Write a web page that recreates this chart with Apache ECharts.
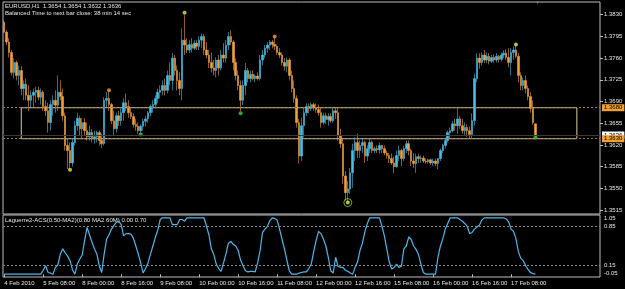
<!DOCTYPE html>
<html><head><meta charset="utf-8">
<script src="https://cdn.jsdelivr.net/npm/echarts@6/dist/echarts.min.js"></script>
<style>html,body{margin:0;padding:0;background:#000;overflow:hidden}#c{width:625px;height:289px}</style>
</head><body><div id="c"></div>
<script>
// ---------- data ----------
const symbolName = 'EURUSD,H1';
const lastQuote = [1.3654, 1.3654, 1.3632, 1.3636];
const timerText = 'Balanced Time to next bar close: 38 min 14 sec';
const indicatorName = 'Laguerre2-ACS(0.50-MA2)(0.80 MA2 60M) 0.00 0.70';
const priceTicks = [1.3515, 1.3550, 1.3585, 1.3620, 1.3655, 1.3690, 1.3725, 1.3760, 1.3795, 1.3830];
const oscTicks = [-0.05, 0.15, 0.85, 1.05];
const oscLevels = [0.15, 0.85];
const timeTicks = ['4 Feb 2010','5 Feb 08:00','8 Feb 00:00','8 Feb 16:00','9 Feb 08:00','10 Feb 00:00','10 Feb 16:00','11 Feb 08:00','12 Feb 00:00','12 Feb 16:00','15 Feb 08:00','16 Feb 00:00','16 Feb 16:00','17 Feb 08:00'];
const zoneTop = 1.3680, zoneBottom = 1.3630, zoneFromBar = 7, zoneToBar = 235;
const bidPrice = 1.3636;
const priceRange = [1.35086, 1.38505];
const oscRange = [-0.05, 1.05];
// hourly bars [open, high, low, close] in 1/10000
const bars = [
[13818,13821,13800,13802],[13802,13805,13781,13786],[13786,13792,13761,13769],[13769,13773,13732,13737],[13737,13760,13727,13753],[13753,13756,13724,13732],[13732,13748,13716,13740],[13740,13747,13700,13711],[13711,13724,13692,13718],[13718,13727,13692,13700],
[13700,13716,13675,13692],[13692,13708,13679,13700],[13700,13711,13680,13705],[13705,13714,13688,13708],[13708,13714,13692,13697],[13697,13711,13685,13705],[13705,13708,13675,13682],[13682,13692,13667,13675],[13675,13688,13640,13656],[13656,13692,13643,13685],
[13685,13700,13667,13692],[13692,13708,13672,13684],[13684,13732,13675,13705],[13705,13724,13692,13698],[13698,13711,13659,13667],[13667,13672,13611,13619],[13619,13630,13581,13611],[13611,13624,13583,13591],[13591,13630,13585,13624],[13624,13659,13619,13651],
[13651,13672,13643,13663],[13663,13667,13635,13646],[13646,13663,13630,13656],[13656,13663,13635,13643],[13643,13656,13627,13633],[13633,13651,13627,13640],[13640,13646,13624,13630],[13630,13643,13622,13633],[13633,13643,13624,13640],[13640,13643,13619,13627],
[13627,13638,13615,13622],[13622,13697,13619,13692],[13692,13705,13680,13695],[13695,13706,13675,13685],[13685,13688,13654,13659],[13659,13675,13635,13646],[13646,13672,13640,13667],[13667,13675,13651,13659],[13659,13679,13651,13672],[13672,13695,13659,13688],
[13688,13703,13675,13682],[13682,13692,13664,13672],[13672,13679,13662,13666],[13666,13671,13648,13653],[13653,13662,13643,13650],[13650,13656,13638,13643],[13643,13653,13638,13650],[13650,13662,13643,13658],[13658,13667,13650,13662],[13662,13675,13656,13672],
[13672,13685,13666,13682],[13682,13692,13672,13685],[13685,13700,13679,13695],[13695,13711,13688,13705],[13705,13716,13695,13708],[13708,13724,13700,13716],[13716,13727,13700,13708],[13708,13740,13703,13732],[13732,13753,13716,13724],[13724,13768,13708,13760],
[13760,13765,13732,13740],[13740,13748,13708,13724],[13724,13737,13700,13711],[13711,13808,13692,13789],[13789,13829,13765,13781],[13781,13792,13768,13773],[13773,13789,13768,13782],[13782,13792,13769,13776],[13776,13789,13773,13784],[13784,13789,13773,13779],
[13779,13795,13773,13789],[13789,13800,13776,13795],[13795,13799,13765,13773],[13773,13786,13760,13765],[13765,13773,13744,13753],[13753,13769,13737,13744],[13744,13757,13732,13740],[13740,13761,13729,13757],[13757,13765,13732,13744],[13744,13773,13740,13765],
[13765,13784,13753,13760],[13760,13789,13753,13781],[13781,13802,13773,13795],[13795,13805,13781,13786],[13786,13789,13740,13753],[13753,13760,13724,13732],[13732,13740,13708,13716],[13716,13724,13674,13692],[13692,13724,13684,13716],[13716,13752,13700,13740],
[13740,13744,13721,13727],[13727,13740,13721,13734],[13734,13740,13724,13727],[13727,13734,13721,13731],[13731,13737,13724,13727],[13727,13765,13724,13757],[13757,13773,13748,13765],[13765,13781,13760,13776],[13776,13786,13769,13781],[13781,13789,13773,13786],
[13786,13789,13776,13782],[13782,13794,13773,13779],[13779,13782,13765,13769],[13769,13776,13760,13765],[13765,13769,13748,13753],[13753,13760,13740,13747],[13747,13761,13737,13757],[13757,13760,13724,13732],[13732,13740,13705,13711],[13711,13724,13688,13695],
[13695,13700,13648,13656],[13656,13662,13590,13602],[13602,13664,13594,13651],[13651,13680,13632,13672],[13672,13687,13667,13682],[13682,13687,13671,13679],[13679,13688,13675,13685],[13685,13688,13675,13680],[13680,13687,13672,13677],[13677,13685,13667,13672],
[13672,13680,13648,13656],[13656,13672,13653,13667],[13667,13672,13654,13661],[13661,13671,13651,13666],[13666,13671,13656,13659],[13659,13680,13656,13675],[13675,13680,13662,13672],[13672,13679,13627,13635],[13635,13646,13615,13622],[13622,13630,13557,13570],
[13570,13578,13530,13543],[13543,13562,13528,13549],[13549,13583,13541,13575],[13575,13622,13551,13611],[13611,13632,13594,13624],[13624,13638,13599,13611],[13611,13627,13599,13619],[13619,13630,13607,13624],[13624,13627,13591,13602],[13602,13619,13594,13614],
[13614,13630,13607,13624],[13624,13627,13607,13611],[13611,13617,13607,13614],[13614,13619,13607,13612],[13612,13624,13606,13619],[13619,13620,13607,13614],[13614,13619,13603,13607],[13607,13611,13598,13603],[13603,13607,13591,13598],[13598,13606,13588,13591],
[13591,13601,13575,13585],[13585,13611,13583,13603],[13603,13619,13594,13611],[13611,13614,13586,13598],[13598,13619,13594,13614],[13614,13627,13607,13622],[13622,13627,13603,13611],[13611,13614,13586,13594],[13594,13607,13583,13590],[13590,13606,13575,13601],
[13601,13606,13591,13598],[13598,13603,13591,13599],[13599,13603,13591,13594],[13594,13598,13590,13593],[13593,13598,13590,13596],[13596,13598,13588,13591],[13591,13598,13586,13594],[13594,13598,13586,13590],[13590,13599,13581,13598],[13598,13614,13594,13611],
[13611,13622,13607,13619],[13619,13630,13614,13627],[13627,13643,13624,13640],[13640,13648,13630,13643],[13643,13659,13640,13654],[13654,13662,13643,13651],[13651,13679,13638,13662],[13662,13667,13646,13651],[13651,13662,13638,13643],[13643,13656,13635,13648],
[13648,13653,13633,13643],[13643,13650,13630,13637],[13637,13671,13630,13659],[13659,13735,13651,13727],[13727,13768,13721,13760],[13760,13768,13743,13753],[13753,13769,13748,13765],[13765,13773,13752,13757],[13757,13769,13752,13763],[13763,13768,13750,13755],
[13755,13765,13752,13761],[13761,13766,13753,13757],[13757,13768,13753,13763],[13763,13765,13753,13758],[13758,13769,13755,13765],[13765,13773,13760,13768],[13768,13774,13757,13761],[13761,13776,13745,13753],[13753,13776,13732,13769],[13769,13779,13757,13773],
[13773,13781,13760,13763],[13763,13768,13721,13732],[13732,13737,13708,13716],[13716,13729,13708,13724],[13724,13732,13703,13711],[13711,13716,13692,13698],[13698,13705,13672,13679],[13679,13692,13653,13656],[13654,13654,13632,13636]
];
const laguerre = [
0,0,0,0,0,0,0,0,0,0,
0,0,0,0,0,0,0.07,0.15,0.03,0.02,
0,0.12,0.16,0.35,0.45,0.38,0.32,0.24,0.08,0,
0.18,0.27,0.34,0.6,0.83,0.7,0.57,0.45,0.36,0.15,
0.03,0.35,0.62,0.7,0.8,0.86,0.92,0.94,0.88,0.68,
0.72,0.72,0.71,0.64,0.5,0.36,0.2,0.02,0.1,0.2,
0.35,0.5,0.65,0.78,0.97,1,1,1,1,0.88,
0.88,0.88,0.97,0.97,0.94,1,1,1,1,1,
1,1,1,0.85,0.7,0.45,0.35,0.18,0.1,0.05,
0.2,0.36,0.55,0.58,0.53,0.5,0.42,0.25,0.15,0.06,
0.04,0.05,0.05,0.04,0.2,0.42,0.74,0.8,0.85,0.95,
1,0.99,0.96,0.8,0.62,0.45,0.25,0.06,0,0,
0,0.02,0.03,0.04,0.04,0.1,0.18,0.4,0.6,0.76,
0.72,0.62,0.5,0.3,0.06,0.02,0.3,0.14,0.12,0.12,
0.07,0.05,0.02,0,0.12,0.22,0.42,0.55,0.75,0.9,
1,1,1,1,1,0.85,0.68,0.45,0.22,0.09,
0.12,0.18,0.12,0.14,0.45,0.5,0.66,0.62,0.5,0.44,
0.35,0.18,0.03,0,0,0,0,0,0.3,0.5,
0.63,0.8,0.9,1,1,1,1,0.97,0.94,0.9,
0.85,0.72,0.74,0.8,0.84,0.87,0.96,1,1,1,
1,1,1,1,1,1,0.98,0.93,0.8,0.76,
0.63,0.4,0.28,0.24,0.15,0.08,0.03,0.01,0
];
// signal dots [bar, price*1e4, kind]
const signalDots = [
[74,13833,'y'],[43,13708,'o'],[111,13795,'o'],[210,13782,'y'],
[27,13580,'y'],[141,13527,'y'],[56,13637,'g'],[97,13671,'g'],[218,13632,'g']
];
const alertRings = [[141,13527]];

// ---------- build ----------
const FONT = 'Liberation Sans';
const TXT = '#e6e6e6';
const BULL = '#46BFE9', BEAR = '#F2A03C';
const dotColor = {y:'#F2E64A', o:'#F2A030', g:'#2ED82E'};
const NBANDS = 245;
const months = ['Jan','Feb','Mar'];
const cats = [];
let t = Date.UTC(2010,1,4,16);
while (cats.length < NBANDS) {
  const d = new Date(t); const wd = d.getUTCDay();
  if (wd !== 0 && wd !== 6) cats.push(d.getUTCDate()+' '+months[d.getUTCMonth()]+' '+String(d.getUTCHours()).padStart(2,'0')+':00');
  t += 3600000;
}
const showTime = (i) => i % 16 === 0 && (i/16) < timeTicks.length;

const chart = echarts.init(document.getElementById('c'), null, {renderer:'canvas'});
chart.setOption({
  animation:false,
  backgroundColor:'#000',
  grid:[
    {left:3, top:2, width:597, height:212, show:true, borderColor:'#bdbdbd', borderWidth:1, backgroundColor:'#000', outerBoundsMode:'none'},
    {left:3, top:215, width:597, height:62, show:true, borderColor:'#bdbdbd', borderWidth:1, backgroundColor:'#000', outerBoundsMode:'none'}
  ],
  xAxis:[
    {type:'category', gridIndex:0, data:cats, boundaryGap:true, axisLine:{show:false}, axisTick:{show:false}, axisLabel:{show:false}, splitLine:{show:false}},
    {type:'category', gridIndex:1, data:cats, boundaryGap:true, axisLine:{show:false},
      axisTick:{show:true, alignWithLabel:true, interval:(i)=>showTime(i), length:3, lineStyle:{color:'#bdbdbd'}},
      axisLabel:{show:true, interval:(i)=>showTime(i), formatter:(v,i)=>timeTicks[i/16]||'', align:'left', color:TXT, fontSize:6, fontFamily:FONT, margin:3},
      splitLine:{show:false}}
  ],
  yAxis:[
    {type:'value', gridIndex:0, position:'right', min:priceRange[0], max:priceRange[1], scale:true,
      splitLine:{show:false}, axisLine:{show:false},
      axisTick:{show:true, customValues:priceTicks, length:3, lineStyle:{color:'#bdbdbd'}},
      axisLabel:{show:true, customValues:priceTicks, formatter:v=>v.toFixed(4), color:TXT, fontSize:6, fontFamily:FONT, margin:4}},
    {type:'value', gridIndex:1, position:'right', min:oscRange[0], max:oscRange[1],
      splitLine:{show:false}, axisLine:{show:false},
      axisTick:{show:false},
      axisLabel:{show:true, customValues:oscTicks, color:TXT, fontSize:6, fontFamily:FONT, margin:4,
        formatter:v=> v >= 1 ? '{t|'+v.toFixed(2)+'}' : (v < 0 ? '{b|'+v.toFixed(2)+'}' : v.toFixed(2)),
        rich:{t:{padding:[7,0,0,0], fontSize:6, fontFamily:FONT, color:TXT}, b:{padding:[0,0,7,0], fontSize:6, fontFamily:FONT, color:TXT}}}}
  ],
  series:[
    {type:'candlestick', xAxisIndex:0, yAxisIndex:0, barWidth:2,
      data: bars.map(b=>[b[0]/1e4, b[3]/1e4, b[2]/1e4, b[1]/1e4]),
      itemStyle:{color:BULL, color0:BEAR, borderColor:BULL, borderColor0:BEAR, borderWidth:0.6},
      markArea:{silent:true, itemStyle:{color:'rgba(0,0,0,0)', borderColor:'#D8D08E', borderWidth:1},
        data:[[{xAxis:zoneFromBar, yAxis:zoneTop},{xAxis:zoneToBar, yAxis:zoneBottom}]]},
      markLine:{silent:true, symbol:['none','none'], precision:4,
        label:{show:true, position:'end', distance:2, fontSize:6, fontFamily:FONT, padding:[1,2,0,2], formatter:p=>Number(p.value).toFixed(4)},
        data:[
          {yAxis:bidPrice, lineStyle:{color:'#3a3a3a', type:'solid', width:1}, label:{backgroundColor:'#ffffff', color:'#000'}},
          {yAxis:zoneTop, lineStyle:{color:'#A8765A', type:[2,2], width:1}, label:{backgroundColor:'#F2A030', color:'#000'}},
          {yAxis:zoneBottom, lineStyle:{color:'#A8765A', type:[2,2], width:1}, label:{backgroundColor:'#F2A030', color:'#000'}}
        ]}
    },
    {type:'scatter', xAxisIndex:0, yAxisIndex:0, symbol:'circle', symbolSize:8, silent:true,
      data: alertRings.map(r=>[r[0], r[1]/1e4]),
      itemStyle:{color:'rgba(0,0,0,0)', borderColor:'#8CD23C', borderWidth:1}},
    {type:'scatter', xAxisIndex:0, yAxisIndex:0, symbol:'circle', symbolSize:4, silent:true,
      data: signalDots.map(d=>({value:[d[0], d[1]/1e4], itemStyle:{color:dotColor[d[2]]}}))},
    {type:'line', xAxisIndex:1, yAxisIndex:1, data:laguerre, symbol:'none', silent:true,
      lineStyle:{color:'#4CB7EA', width:1.2},
      markLine:{silent:true, symbol:['none','none'], label:{show:false},
        lineStyle:{color:'#8a8a8a', type:[2,2], width:1},
        data: oscLevels.map(v=>({yAxis:v}))}}
  ],
  graphic:[
    {type:'text', left:5, top:3, style:{text:symbolName+'  '+lastQuote.map(v=>v.toFixed(4)).join(' '), fill:TXT, font:'6px '+FONT}},
    {type:'text', left:5, top:10, style:{text:timerText, fill:TXT, font:'6px '+FONT}},
    {type:'text', left:5, top:217, style:{text:indicatorName, fill:TXT, font:'6px '+FONT}},
    {type:'text', left:535, top:0, style:{text:'▼', fill:'#777', font:'5px '+FONT}}
  ]
});
</script></body></html>
